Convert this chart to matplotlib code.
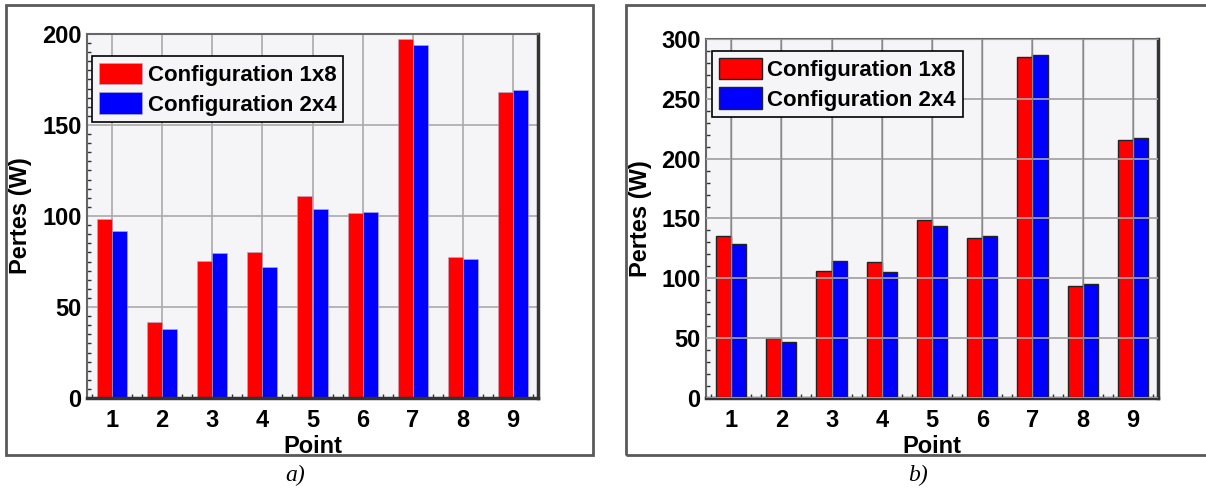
import numpy as np
import matplotlib
matplotlib.use('Agg')
import matplotlib.pyplot as plt
from matplotlib.patches import Rectangle
from matplotlib.ticker import MultipleLocator

# data
points = [1, 2, 3, 4, 5, 6, 7, 8, 9]
series_names = ['Configuration 1x8', 'Configuration 2x4']
losses_a_1x8 = [98.5, 41.5, 75.5, 80, 111, 101.5, 197, 77.5, 168]
losses_a_2x4 = [91.5, 38, 79.5, 72, 104, 102, 194, 76.5, 169]
losses_b_1x8 = [135, 50, 106.5, 113.5, 149, 134, 285, 94, 215.5]
losses_b_2x4 = [129, 47, 114.5, 105.5, 144, 135, 287, 95, 217.5]
ylims = [200, 300]
captions = ['a)', 'b)']

plt.rcParams['font.family'] = ['Liberation Sans', 'DejaVu Sans']
plt.rcParams['font.weight'] = 'bold'

W, H = 1206, 493
fig = plt.figure(figsize=(W / 100, H / 100), dpi=100)

# outer frames around each panel (pixels)
for x0, x1 in [(6, 593), (626, 1212)]:
    fig.patches.append(Rectangle((x0 / W, 1 - 455 / H), (x1 - x0) / W, 450 / H,
                                 transform=fig.transFigure, fill=False,
                                 edgecolor='#5a5a5a', linewidth=2))

# axes boxes in pixels: left, top, right, bottom
boxes = [(87, 34, 538, 398), (706, 39, 1158, 398)]
data = [(losses_a_1x8, losses_a_2x4), (losses_b_1x8, losses_b_2x4)]
minor_y = [5, 10]
legend_anchor = [(0.011, 0.94), (0.013, 0.967)]
caption_x = [295, 918]
ylabel_x = [-0.122, -0.12]
xlabel_y = [-0.102, -0.103]

x = np.array(points)
w = 0.3
for i in range(2):
    l, t, r, b = boxes[i]
    ax = fig.add_axes([l / W, 1 - b / H, (r - l) / W, (b - t) / H])
    ax.set_facecolor('#f5f5f8')
    ax.set_axisbelow(True)
    red, blue = data[i]
    if i == 0:
        kw = dict(edgecolor='#b0b0d0', linewidth=0.4)
    else:
        kw = dict(edgecolor='#222222', linewidth=1)
    ax.bar(x - w / 2, red, w, color='#ff0000', label=series_names[0], **kw)
    ax.bar(x + w / 2, blue, w, color='#0000ff', label=series_names[1], **kw)

    ax.set_xlim(0.5, 9.5)
    ax.set_ylim(0, ylims[i])
    ax.set_xticks(points)
    ax.yaxis.set_major_locator(MultipleLocator(50))
    ax.yaxis.set_minor_locator(MultipleLocator(minor_y[i]))
    ax.xaxis.set_minor_locator(MultipleLocator(0.2))
    ax.tick_params(axis='both', which='major', length=0, labelsize=17)
    ax.tick_params(axis='x', which='major', pad=8)
    ax.tick_params(axis='y', which='major', pad=4)
    ax.tick_params(axis='both', which='minor', direction='in', length=3,
                   width=1, color='#333333')
    ax.grid(True, which='major', color='#aaaaaa', linewidth=1.2)
    if i == 1:
        # grid drawn over the bars on this panel
        for yv in ax.get_yticks()[1:-1]:
            ax.axhline(yv, color='#aaaaaa', linewidth=1.2, zorder=3)
        for xv in points:
            ax.axvline(xv, color='#888888', linewidth=1, zorder=3)

    for side in ['top', 'left']:
        ax.spines[side].set_color('#666666')
        ax.spines[side].set_linewidth(1.5)
    for side in ['right', 'bottom']:
        ax.spines[side].set_color('#333333')
        ax.spines[side].set_linewidth(2.5)

    ax.set_ylabel('Pertes (W)', fontsize=17, fontweight='bold')
    ax.set_xlabel('Point', fontsize=17, fontweight='bold')
    ax.yaxis.set_label_coords(ylabel_x[i], 0.5)
    ax.xaxis.set_label_coords(0.5, xlabel_y[i])

    leg = ax.legend(loc='upper left', bbox_to_anchor=legend_anchor[i],
                    borderaxespad=0, fontsize=16, fancybox=False,
                    framealpha=1, facecolor='#f5f5f8', edgecolor='black',
                    handlelength=1.95, handleheight=1.1, handletextpad=0.25,
                    borderpad=0.3, labelspacing=0.3)
    leg.get_frame().set_linewidth(1.2)
    leg.set_zorder(5)

    fig.text(caption_x[i] / W, 1 - 475 / H, captions[i], ha='center',
             va='center', fontsize=17, fontstyle='italic', fontweight='normal',
             family=['Liberation Serif', 'DejaVu Serif'])

fig.savefig('out.png', dpi=100)
